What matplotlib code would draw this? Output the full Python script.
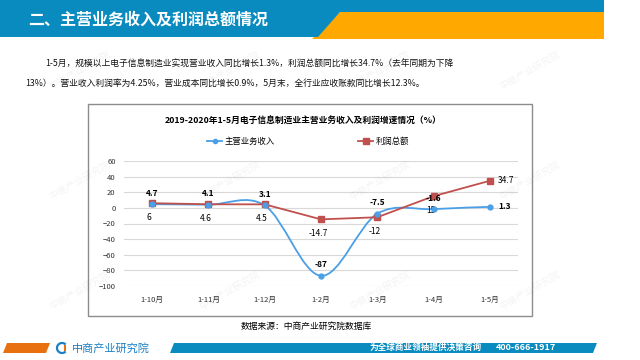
import numpy as np
import matplotlib
matplotlib.use("Agg")
from matplotlib import pyplot as plt
from matplotlib.patches import Polygon, Rectangle, Arc
from matplotlib.path import Path
from matplotlib.patches import PathPatch

plt.rcParams['font.family'] = ['Noto Sans CJK SC', 'DejaVu Sans']

months = ["1-10月", "1-11月", "1-12月", "1-2月", "1-3月", "1-4月", "1-5月"]
revenue = [4.7, 4.1, 3.1, -87, -7.5, -1.6, 1.3]       # 主营业务收入
profit = [6, 4.6, 4.5, -14.7, -12, 15, 34.7]          # 利润总额
yticks = list(range(-100, 61, 20))

BLUE = "#4a9fe6"
RED = "#c0504d"
W, H = 640, 360


def fx(x):
    return x / W


def fy(y):
    return 1 - y / H


fig = plt.figure(figsize=(6.4, 3.6), dpi=100)
tf = fig.transFigure

# header band
fig.patches.append(Polygon([(fx(312), fy(39)), (fx(604), fy(39)), (fx(604), fy(12)), (fx(340), fy(12))],
                           closed=True, transform=tf, fc="#ffa800", ec="none", zorder=-2))
fig.patches.append(Polygon([(0, fy(0)), (fx(604), fy(0)), (fx(604), fy(12)), (fx(340), fy(12)),
                            (fx(318), fy(37)), (0, fy(37))],
                           closed=True, transform=tf, fc="#0a8bbf", ec="none", zorder=-2))
fig.text(fx(28), fy(20), "二、主营业务收入及利润总额情况", color="white", fontsize=11.5,
         weight="bold", va="center", ha="left")

# paragraph
fig.text(fx(45), fy(64), "1-5月，规模以上电子信息制造业实现营业收入同比增长1.3%，利润总额同比增长34.7%（去年同期为下降",
         fontsize=6.3, va="center", ha="left", color="#111111")
fig.text(fx(25), fy(83), "13%）。营业收入利润率为4.25%，营业成本同比增长0.9%，5月末，全行业应收账款同比增长12.3%。",
         fontsize=6.3, va="center", ha="left", color="#111111")

# chart box
fig.patches.append(Rectangle((fx(88), fy(316)), fx(532) - fx(88), fy(104) - fy(316),
                             transform=tf, fc="white", ec="#8c8c8c", lw=1, zorder=-1))
fig.text(fx(303), fy(121), "2019-2020年1-5月电子信息制造业主营业务收入及利润增速情况（%）",
         fontsize=6.3, weight="bold", ha="center", va="center")

# legend
fig.lines.append(plt.Line2D([fx(207), fx(222)], [fy(141), fy(141)], transform=tf, color=BLUE, lw=1.3))
fig.lines.append(plt.Line2D([fx(214.5)], [fy(141)], transform=tf, color=BLUE, marker="o", markersize=3))
fig.text(fx(225), fy(141), "主营业务收入", fontsize=6, ha="left", va="center")
fig.lines.append(plt.Line2D([fx(358), fx(373)], [fy(141), fy(141)], transform=tf, color=RED, lw=1.3))
fig.lines.append(plt.Line2D([fx(365.5)], [fy(141)], transform=tf, color=RED, marker="s", markersize=4))
fig.text(fx(376), fy(141), "利润总额", fontsize=6, ha="left", va="center")

ax = fig.add_axes([fx(124), fy(286), fx(518) - fx(124), fy(161) - fy(286)])
ax.set_facecolor("none")
x = np.arange(len(months))
ax.set_xlim(-0.5, len(months) - 0.5)
ax.set_ylim(-100, 60)
ax.set_yticks(yticks)
ax.set_xticks(x)
ax.set_xticklabels(months)
ax.tick_params(length=0, labelsize=5.5, colors="#333333")
ax.tick_params(axis="x", pad=7)
ax.tick_params(axis="y", pad=6)
for s in ax.spines.values():
    s.set_visible(False)
ax.grid(axis="y", color="#d9d9d9", lw=0.8)
ax.set_axisbelow(True)

# smoothed revenue line (bezier through the points)
pts = np.column_stack([x, revenue]).astype(float)
verts = [pts[0]]
codes = [Path.MOVETO]
n = len(pts)
for i in range(n - 1):
    p0 = pts[i - 1] if i > 0 else pts[i]
    p1, p2 = pts[i], pts[i + 1]
    p3 = pts[i + 2] if i + 2 < n else pts[i + 1]
    c1 = p1 + (p2 - p0) / 6
    c2 = p2 - (p3 - p1) / 6
    verts += [c1, c2, p2]
    codes += [Path.CURVE4] * 3
ax.add_patch(PathPatch(Path(verts, codes), fc="none", ec=BLUE, lw=1.3, zorder=3))
ax.plot(x, revenue, ls="none", marker="o", color=BLUE, markersize=3.5, zorder=4)

ax.plot(x, profit, color=RED, lw=1.3, marker="s", markersize=5, zorder=3)

for i, (a, b) in enumerate(zip(revenue, profit)):
    if i == len(months) - 1:
        ax.annotate(f"{a:g}", (i, a), xytext=(6, 0), textcoords="offset points",
                    ha="left", va="center", fontsize=6, weight="bold")
        ax.annotate(f"{b:g}", (i, b), xytext=(6, 0), textcoords="offset points",
                    ha="left", va="center", fontsize=6)
    else:
        ax.annotate(f"{a:g}", (i, a), xytext=(0, 8), textcoords="offset points",
                    ha="center", va="center", fontsize=6, weight="bold")
        ax.annotate(f"{b:g}", (i, b), xytext=(-2, -10), textcoords="offset points",
                    ha="center", va="center", fontsize=6)

fig.text(fx(306), fy(326), "数据来源：中商产业研究院数据库", fontsize=6.3, ha="center", va="center")

# footer
fig.patches.append(Polygon([(fx(3), fy(353)), (fx(46), fy(353)), (fx(50), fy(343)), (fx(7), fy(343))],
                           closed=True, transform=tf, fc="#e8700f", ec="none"))
fig.patches.append(Polygon([(fx(170), fy(353)), (fx(593), fy(353)), (fx(597), fy(343)), (fx(174), fy(343))],
                           closed=True, transform=tf, fc="#0a8bbf", ec="none"))
fig.patches.append(Arc((fx(62), fy(348)), fx(10), 10 / H, theta1=60, theta2=300,
                       transform=tf, color="#1a7fc4", lw=1.6))
fig.patches.append(Rectangle((fx(64), fy(351)), fx(2), 6 / H, transform=tf, fc="#e8700f", ec="none"))
fig.text(fx(72), fy(348), "中商产业研究院", fontsize=8, color="#1a7fc4", ha="left", va="center")
fig.text(fx(370), fy(348), "为全球商业领袖提供决策咨询", fontsize=6.2, color="white", weight="bold",
         ha="left", va="center")
fig.text(fx(496), fy(348), "400-666-1917", fontsize=6.5, color="white", weight="bold",
         ha="left", va="center")

# faint watermarks
for wy in [70, 180, 290]:
    for wx in [80, 230, 380, 530]:
        fig.text(fx(wx), fy(wy), "中商产业研究院", fontsize=7, color="#000000", alpha=0.05,
                 rotation=30, ha="center", va="center")

fig.savefig("out.png", dpi=100)
